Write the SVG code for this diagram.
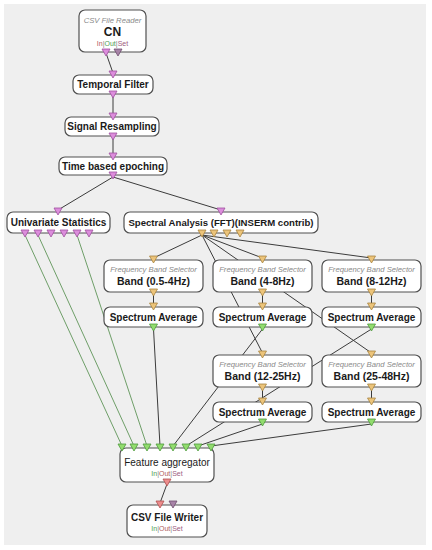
<svg xmlns="http://www.w3.org/2000/svg" width="432" height="550" viewBox="0 0 432 550">
<style>
.box{fill:#fff;stroke:#505050;stroke-width:1.2}
.t{font-family:"Liberation Sans",Arial,sans-serif;font-weight:bold;font-size:10px;fill:#1a1a1a;text-anchor:middle}
.sub{font-family:"Liberation Sans",Arial,sans-serif;font-style:italic;font-size:7.7px;fill:#8a8a8a;text-anchor:middle}
.io{font-family:"Liberation Sans",Arial,sans-serif;font-size:7px;text-anchor:middle}
.ln{stroke:#3c3c3c;stroke-width:1;fill:none}
.gl{stroke:#6e9e68;stroke-width:1;fill:none}
.sig{fill:#dc8ddc;stroke:#a050a0;stroke-width:0.8}
.spc{fill:#ecc47a;stroke:#a88440;stroke-width:0.8}
.ftr{fill:#92dc6e;stroke:#4e9a3e;stroke-width:0.8}
.mat{fill:#ec8c8c;stroke:#b05050;stroke-width:0.8}
.stm{fill:#a884a8;stroke:#6e4e6e;stroke-width:0.8}
</style>
<defs>
<path id="ti" d="M-4,-4 L4,-4 L0,3 Z"/>
<path id="to" d="M-4,-3 L4,-3 L0,4 Z"/>
</defs>
<rect x="0" y="0" width="432" height="550" fill="#fff"/>
<rect x="4" y="4" width="422" height="541" fill="#efefef"/>

<g id="connectors">
<line class="ln" x1="106" y1="53" x2="113" y2="73" stroke="#4a3a4a"/>
<line class="ln" x1="113" y1="96" x2="113" y2="115"/>
<line class="ln" x1="113" y1="138" x2="113" y2="155"/>
<line class="ln" x1="113" y1="177" x2="58" y2="210"/>
<line class="ln" x1="113" y1="177" x2="221" y2="210"/>
<line class="ln" x1="202" y1="235" x2="153.5" y2="258"/>
<line class="ln" x1="202" y1="235" x2="262.5" y2="258"/>
<line class="ln" x1="202" y1="235" x2="371.5" y2="258"/>
<line class="ln" x1="202" y1="235" x2="262.5" y2="353"/>
<line class="ln" x1="202" y1="235" x2="371.5" y2="353"/>
<line class="ln" x1="153.5" y1="294" x2="153.5" y2="305"/>
<line class="ln" x1="262.5" y1="294" x2="262.5" y2="305"/>
<line class="ln" x1="371.5" y1="294" x2="371.5" y2="305"/>
<line class="ln" x1="262.5" y1="389" x2="262.5" y2="400"/>
<line class="ln" x1="371.5" y1="389" x2="371.5" y2="400"/>
<line class="gl" x1="25" y1="235" x2="122" y2="446"/>
<line class="gl" x1="38" y1="235" x2="134" y2="446"/>
<line class="gl" x1="77" y1="235" x2="147" y2="446"/>
<line class="ln" x1="153.5" y1="329" x2="160" y2="446"/>
<line class="ln" x1="262.5" y1="329" x2="173" y2="446"/>
<line class="ln" x1="371.5" y1="329" x2="186" y2="446"/>
<line class="ln" x1="262.5" y1="424" x2="198" y2="446"/>
<line class="ln" x1="371.5" y1="424" x2="211" y2="446"/>
<line class="ln" x1="167" y1="484" x2="160" y2="503"/>
</g>

<g id="csv-reader">
<rect class="box" x="79" y="10" width="67" height="42" rx="6"/>
<text class="sub" x="112.5" y="23">CSV File Reader</text>
<text class="t" x="112.5" y="36" style="font-size:12px">CN</text>
<text class="io" x="112.5" y="46"><tspan fill="#b06060">In</tspan><tspan fill="#888">|</tspan><tspan fill="#50a050">Out</tspan><tspan fill="#888">|</tspan><tspan fill="#a06080">Set</tspan></text>
<use href="#to" class="sig" x="106" y="52"/>
<use href="#to" class="stm" x="118" y="52"/>
</g>

<g id="temporal-filter">
<rect class="box" x="73" y="75" width="80" height="19" rx="6"/>
<text class="t" x="113" y="88">Temporal Filter</text>
<use href="#ti" class="sig" x="113" y="75"/>
<use href="#to" class="sig" x="113" y="94"/>
</g>

<g id="signal-resampling">
<rect class="box" x="65" y="117" width="94" height="19" rx="6"/>
<text class="t" x="112" y="130">Signal Resampling</text>
<use href="#ti" class="sig" x="113" y="117"/>
<use href="#to" class="sig" x="113" y="136"/>
</g>

<g id="time-epoching">
<rect class="box" x="59" y="157" width="108" height="18" rx="6"/>
<text class="t" x="113" y="170">Time based epoching</text>
<use href="#ti" class="sig" x="113" y="157"/>
<use href="#to" class="sig" x="113" y="175"/>
</g>

<g id="univariate">
<rect class="box" x="7" y="212" width="103" height="21" rx="6"/>
<text class="t" x="58.5" y="226">Univariate Statistics</text>
<use href="#ti" class="sig" x="58" y="212"/>
<use href="#to" class="sig" x="25" y="233"/>
<use href="#to" class="sig" x="38" y="233"/>
<use href="#to" class="sig" x="51" y="233"/>
<use href="#to" class="sig" x="64" y="233"/>
<use href="#to" class="sig" x="77" y="233"/>
<use href="#to" class="sig" x="89" y="233"/>
</g>

<g id="spectral">
<rect class="box" x="124" y="212" width="194" height="21" rx="6"/>
<text class="t" x="221" y="226" style="font-size:9.6px">Spectral Analysis (FFT)(INSERM contrib)</text>
<use href="#ti" class="sig" x="221" y="212"/>
<use href="#to" class="spc" x="202" y="233"/>
<use href="#to" class="spc" x="214" y="233"/>
<use href="#to" class="spc" x="227" y="233"/>
<use href="#to" class="spc" x="240" y="233"/>
</g>

<g id="band-0-5-4">
<rect class="box" x="104" y="260" width="99" height="32" rx="6"/>
<text class="sub" x="153.5" y="272">Frequency Band Selector</text>
<text class="t" x="153.5" y="285" style="font-size:10.5px">Band (0.5-4Hz)</text>
<use href="#ti" class="spc" x="153.5" y="260"/>
<use href="#to" class="spc" x="153.5" y="292"/>
</g>
<g id="band-4-8">
<rect class="box" x="213" y="260" width="99" height="32" rx="6"/>
<text class="sub" x="262.5" y="272">Frequency Band Selector</text>
<text class="t" x="262.5" y="285" style="font-size:10.5px">Band (4-8Hz)</text>
<use href="#ti" class="spc" x="262.5" y="260"/>
<use href="#to" class="spc" x="262.5" y="292"/>
</g>
<g id="band-8-12">
<rect class="box" x="322" y="260" width="99" height="32" rx="6"/>
<text class="sub" x="371.5" y="272">Frequency Band Selector</text>
<text class="t" x="371.5" y="285" style="font-size:10.5px">Band (8-12Hz)</text>
<use href="#ti" class="spc" x="371.5" y="260"/>
<use href="#to" class="spc" x="371.5" y="292"/>
</g>

<g id="avg-1">
<rect class="box" x="104" y="307" width="99" height="20" rx="6"/>
<text class="t" x="153.5" y="321">Spectrum Average</text>
<use href="#ti" class="spc" x="153.5" y="307"/>
<use href="#to" class="ftr" x="153.5" y="327"/>
</g>
<g id="avg-2">
<rect class="box" x="213" y="307" width="99" height="20" rx="6"/>
<text class="t" x="262.5" y="321">Spectrum Average</text>
<use href="#ti" class="spc" x="262.5" y="307"/>
<use href="#to" class="ftr" x="262.5" y="327"/>
</g>
<g id="avg-3">
<rect class="box" x="322" y="307" width="99" height="20" rx="6"/>
<text class="t" x="371.5" y="321">Spectrum Average</text>
<use href="#ti" class="spc" x="371.5" y="307"/>
<use href="#to" class="ftr" x="371.5" y="327"/>
</g>

<g id="band-12-25">
<rect class="box" x="213" y="355" width="99" height="32" rx="6"/>
<text class="sub" x="262.5" y="367">Frequency Band Selector</text>
<text class="t" x="262.5" y="380" style="font-size:10.5px">Band (12-25Hz)</text>
<use href="#ti" class="spc" x="262.5" y="355"/>
<use href="#to" class="spc" x="262.5" y="387"/>
</g>
<g id="band-25-48">
<rect class="box" x="322" y="355" width="99" height="32" rx="6"/>
<text class="sub" x="371.5" y="367">Frequency Band Selector</text>
<text class="t" x="371.5" y="380" style="font-size:10.5px">Band (25-48Hz)</text>
<use href="#ti" class="spc" x="371.5" y="355"/>
<use href="#to" class="spc" x="371.5" y="387"/>
</g>

<g id="avg-4">
<rect class="box" x="213" y="402" width="99" height="20" rx="6"/>
<text class="t" x="262.5" y="416">Spectrum Average</text>
<use href="#ti" class="spc" x="262.5" y="402"/>
<use href="#to" class="ftr" x="262.5" y="422"/>
</g>
<g id="avg-5">
<rect class="box" x="322" y="402" width="99" height="20" rx="6"/>
<text class="t" x="371.5" y="416">Spectrum Average</text>
<use href="#ti" class="spc" x="371.5" y="402"/>
<use href="#to" class="ftr" x="371.5" y="422"/>
</g>

<g id="feature-aggregator">
<rect class="box" x="120" y="448" width="94" height="34" rx="6"/>
<text class="t" x="167" y="466" style="font-weight:normal">Feature aggregator</text>
<text class="io" x="167" y="476"><tspan fill="#50a050">In</tspan><tspan fill="#888">|</tspan><tspan fill="#b06060">Out</tspan><tspan fill="#888">|</tspan><tspan fill="#a06080">Set</tspan></text>
<use href="#ti" class="ftr" x="122" y="448"/>
<use href="#ti" class="ftr" x="134" y="448"/>
<use href="#ti" class="ftr" x="147" y="448"/>
<use href="#ti" class="ftr" x="160" y="448"/>
<use href="#ti" class="ftr" x="173" y="448"/>
<use href="#ti" class="ftr" x="186" y="448"/>
<use href="#ti" class="ftr" x="198" y="448"/>
<use href="#ti" class="ftr" x="211" y="448"/>
<use href="#to" class="mat" x="167" y="482"/>
</g>

<g id="csv-writer">
<rect class="box" x="127" y="505" width="80" height="32" rx="6"/>
<text class="t" x="167" y="521">CSV File Writer</text>
<text class="io" x="167" y="531"><tspan fill="#50a050">In</tspan><tspan fill="#888">|</tspan><tspan fill="#b06060">Out</tspan><tspan fill="#888">|</tspan><tspan fill="#a06080">Set</tspan></text>
<use href="#ti" class="mat" x="160" y="505"/>
<use href="#ti" class="stm" x="173" y="505"/>
</g>
</svg>
